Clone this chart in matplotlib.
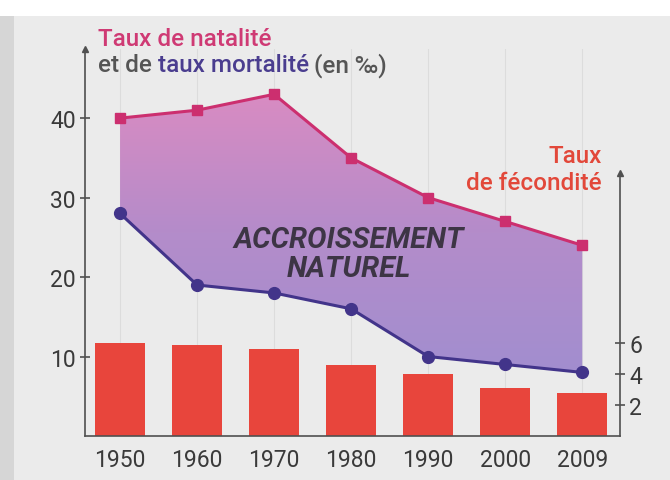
import numpy as np
import matplotlib
matplotlib.use("Agg")
import matplotlib.pyplot as plt
from matplotlib.colors import LinearSegmentedColormap
from matplotlib.patches import PathPatch, Rectangle

# data
years = ["1950", "1960", "1970", "1980", "1990", "2000", "2009"]
natalite = [40, 41, 43, 35, 30, 27, 24]        # per thousand
mortalite = [28, 19, 18, 16, 10, 9, 8]         # per thousand
fecondite = [6.0, 5.9, 5.6, 4.6, 4.0, 3.1, 2.8]  # children per woman

plt.rcParams['font.family'] = ['Roboto', 'DejaVu Sans']

W, H = 670, 481
fig = plt.figure(figsize=(W / 100, H / 100), dpi=100)
fig.patch.set_facecolor('#ebebeb')
fig.patches.append(Rectangle((0, 1 - 17 / H), 1, 17 / H, transform=fig.transFigure,
                             facecolor='white', edgecolor='none', zorder=0))
fig.patches.append(Rectangle((0, 0), 14 / W, 1 - 17 / H, transform=fig.transFigure,
                             facecolor='#d6d6d6', edgecolor='none', zorder=0))


def fx(px):
    return px / W


def fy(py):
    return 1 - py / H


ax = fig.add_axes([fx(85), fy(437), fx(620) - fx(85), fy(50) - fy(437)])
ax2 = ax.twinx()
ax.set_zorder(ax2.get_zorder() + 1)
ax.patch.set_visible(False)

x = np.arange(len(years))

# faint year guides, behind the bars
for xi in x:
    ax2.axvline(xi, color='#cfcfcf', lw=0.8, alpha=0.5, zorder=0)

# fertility bars (right axis)
ax2.bar(x, fecondite, width=0.65, color='#e8453c', zorder=2)

# gradient fill between the two rates
poly = ax.fill_between(x, mortalite, natalite, color='none', zorder=1)
path = poly.get_paths()[0]
clip = PathPatch(path, transform=ax.transData, facecolor='none', edgecolor='none')
ax.add_patch(clip)
cmap = LinearSegmentedColormap.from_list('acc', ['#a28ecf', '#b48cca', '#d98bc2'])
grad = np.linspace(0, 1, 256).reshape(-1, 1)
im = ax.imshow(grad, extent=[x[0], x[-1], min(mortalite), max(natalite)],
               origin='lower', aspect='auto', cmap=cmap, zorder=1)
im.set_clip_path(clip)

ax.plot(x, natalite, color='#cc2f6f', lw=2.2, marker='s', ms=7.5, zorder=3)
ax.plot(x, mortalite, color='#42348a', lw=2.2, marker='o', ms=8.5, zorder=3)

ax.set_xlim(-0.455, 6.49)
ax.set_ylim(0, 48.7)
ax2.set_ylim(0, 25)

gray = '#505050'
for a in (ax, ax2):
    a.spines['top'].set_visible(False)
    for s in a.spines.values():
        s.set_color(gray)
        s.set_linewidth(1.2)
ax.spines['right'].set_visible(False)
ax2.spines['left'].set_visible(False)
ax2.spines['bottom'].set_visible(False)
ax2.spines['right'].set_bounds(0, 17)

ax.set_xticks(x)
ax.set_xticklabels(years)
ax.tick_params(axis='x', length=0, pad=9, labelsize=16.5, labelcolor='#3a3a3a')
ax.set_yticks([10, 20, 30, 40])
ax.tick_params(axis='y', direction='inout', length=7, width=1.2, color=gray,
               labelsize=16.5, labelcolor='#3a3a3a', pad=3)
ax2.set_yticks([2, 4, 6])
ax2.tick_params(axis='y', direction='inout', length=7, width=1.2, color=gray,
                labelsize=16.5, labelcolor='#3a3a3a', pad=3)

# arrowheads on the vertical axes
ax.plot(-0.455, 48.7, marker='^', ms=4, color=gray, clip_on=False, zorder=5)
ax2.plot(6.49, 17, marker='^', ms=4, color=gray, clip_on=False, zorder=5)

# titles
fs = 17.5
fig.text(fx(98), fy(40), "Taux de natalité", color='#cf3a74', fontsize=fs,
         fontweight='medium', va='center', ha='left')
t1 = fig.text(fx(98), fy(66), "et de ", color='#555555', fontsize=fs,
              fontweight='medium', va='center', ha='left')
fig.canvas.draw()
r = fig.canvas.get_renderer()
bb = t1.get_window_extent(r)
t2 = fig.text(bb.x1 / W, fy(66), "taux mortalité", color='#4a3d8f', fontsize=fs,
              fontweight='medium', va='center', ha='left')
bb2 = t2.get_window_extent(r)
fig.text(bb2.x1 / W + 0.008, fy(66), "(en ‰)", color='#555555', fontsize=fs,
         fontweight='medium', va='center', ha='left')

fig.text(fx(602), fy(157), "Taux", color='#e2483a', fontsize=fs,
         fontweight='medium', va='center', ha='right')
fig.text(fx(602), fy(183), "de fécondité", color='#e2483a', fontsize=fs,
         fontweight='medium', va='center', ha='right')

fig.text(fx(349), fy(240), "ACCROISSEMENT", color='#3d3545', fontsize=21,
         fontweight='bold', fontstyle='italic', va='center', ha='center')
fig.text(fx(349), fy(269), "NATUREL", color='#3d3545', fontsize=21,
         fontweight='bold', fontstyle='italic', va='center', ha='center')

fig.savefig('out.png', dpi=100, facecolor=fig.get_facecolor())
